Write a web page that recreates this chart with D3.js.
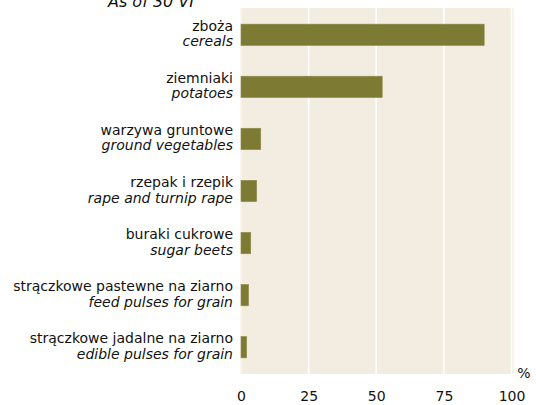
<!DOCTYPE html>
<html>
<head>
<meta charset="utf-8">
<script src="https://cdn.jsdelivr.net/npm/d3@7"></script>
<style>
  html, body { margin: 0; padding: 0; background: #ffffff; }
  svg { display: block; }
  text { font-family: "DejaVu Sans", "Noto Sans", sans-serif; fill: #111111; }
</style>
</head>
<body>
<svg id="chart" width="536" height="405"></svg>
<script>
// Crops by share of farms, as of 30 VI
const categoriesPl = [
  "zboża",
  "ziemniaki",
  "warzywa gruntowe",
  "rzepak i rzepik",
  "buraki cukrowe",
  "strączkowe pastewne na ziarno",
  "strączkowe jadalne na ziarno"
];
const categoriesEn = [
  "cereals",
  "potatoes",
  "ground vegetables",
  "rape and turnip rape",
  "sugar beets",
  "feed pulses for grain",
  "edible pulses for grain"
];
const values = [89.9, 52.2, 7.3, 5.8, 3.6, 2.8, 2.1];
const xTicks = [0, 25, 50, 75, 100];
const titleText = "As of 30 VI";
const unitText = "%";

const svg = d3.select("#chart");

const plot = { left: 240, right: 513.5, top: 8, bottom: 374 };

const x = d3.scaleLinear().domain([0, 100]).range([241, 511.5]);
const y = d3.scaleBand()
  .domain(d3.range(values.length))
  .range([plot.top, plot.bottom])
  .paddingInner(0.59)
  .paddingOuter(0.31);

// plot background
svg.append("rect")
  .attr("x", plot.left)
  .attr("y", plot.top)
  .attr("width", plot.right - plot.left)
  .attr("height", plot.bottom - plot.top)
  .attr("fill", "#f3ece0");

// vertical gridlines
svg.append("g")
  .selectAll("line")
  .data(xTicks)
  .join("line")
  .attr("x1", d => x(d))
  .attr("x2", d => x(d))
  .attr("y1", plot.top)
  .attr("y2", plot.bottom)
  .attr("stroke", "#ffffff")
  .attr("stroke-width", d => d === 0 ? 1 : 1.6);

// bars
svg.append("g")
  .selectAll("rect")
  .data(values)
  .join("rect")
  .attr("x", x(0))
  .attr("y", (d, i) => y(i))
  .attr("width", d => x(d) - x(0))
  .attr("height", y.bandwidth())
  .attr("fill", "#7d7a34")
  .attr("stroke", "#8f8c4c")
  .attr("stroke-width", 0.6);

// category labels (Polish + English)
const labels = svg.append("g")
  .selectAll("g")
  .data(values)
  .join("g")
  .attr("transform", (d, i) => `translate(233, ${y(i) + y.bandwidth() / 2})`);

labels.append("text")
  .attr("text-anchor", "end")
  .attr("y", -4)
  .attr("font-size", 14)
  .text((d, i) => categoriesPl[i]);

labels.append("text")
  .attr("text-anchor", "end")
  .attr("y", 11.5)
  .attr("font-size", 14)
  .attr("font-style", "italic")
  .text((d, i) => categoriesEn[i]);

// x axis tick labels
const axis = d3.axisBottom(x).tickValues(xTicks).tickSize(0).tickPadding(0);
const gAxis = svg.append("g")
  .attr("transform", `translate(0, 388)`)
  .call(axis);
gAxis.select(".domain").remove();
gAxis.selectAll("text")
  .attr("font-size", 14)
  .attr("font-family", "'DejaVu Sans', sans-serif")
  .attr("fill", "#111111")
  .attr("dy", "0.95em");

// unit
svg.append("text")
  .attr("x", 524)
  .attr("y", 378)
  .attr("text-anchor", "middle")
  .attr("font-size", 14)
  .text(unitText);

// title (partly clipped at top)
svg.append("text")
  .attr("x", 151)
  .attr("y", 7)
  .attr("text-anchor", "middle")
  .attr("font-size", 16)
  .attr("font-style", "italic")
  .text(titleText);
</script>
</body>
</html>
